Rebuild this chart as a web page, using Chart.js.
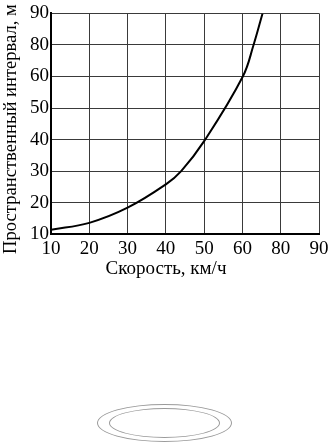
<!DOCTYPE html>
<html>
<head>
<meta charset="utf-8">
<script src="https://cdn.jsdelivr.net/npm/chart.js@4"></script>
<style>
  body { margin: 0; background: #fff; }
  #wrap { position: absolute; left: 0; top: 0; width: 329px; height: 284px; }
  .ring { position: absolute; border: 1px solid #9a9a9a; border-radius: 50%; box-sizing: border-box; }
</style>
</head>
<body>
<div id="wrap"><canvas id="gapChart"></canvas></div>
<div class="ring" style="left:97px; top:404px; width:135px; height:38px;"></div>
<div class="ring" style="left:109px; top:408px; width:111px; height:30px;"></div>
<script>
// tick labels (axes are not to scale: 70 is skipped on both)
const speedTicks = [10, 20, 30, 40, 50, 60, 80, 90];
const intervalTicks = [10, 20, 30, 40, 50, 60, 80, 90];

// curve
const speed = [10, 20, 30, 40, 44, 50, 60.2, 65.8, 70.5];
const interval = [11.4, 13.6, 18.4, 25.8, 30, 39.5, 60, 80, 90];

const yTitle = 'Пространственный интервал, м';
const xTitle = 'Скорость, км/ч';

// value -> position between the printed ticks
function toIndex(v, ticks) {
    for (let i = 0; i < ticks.length - 1; i++) {
        if (v <= ticks[i + 1]) {
            return i + (v - ticks[i]) / (ticks[i + 1] - ticks[i]);
        }
    }
    return ticks.length - 1;
}

const points = speed.map((s, i) => ({ x: toIndex(s, speedTicks), y: toIndex(interval[i], intervalTicks) }));

const fontFamily = "'Liberation Serif', 'DejaVu Serif', serif";
const serif = { family: fontFamily, size: 19, weight: 'normal' };

// axis titles drawn by hand, they are not centred on the plot in the original
const axisTitles = {
    id: 'axisTitles',
    afterDraw(chart) {
        const { ctx, chartArea } = chart;
        ctx.save();
        ctx.fillStyle = '#000';
        ctx.textAlign = 'center';
        ctx.textBaseline = 'middle';
        ctx.font = '19px ' + fontFamily;
        ctx.fillText(xTitle, 166, chartArea.bottom + 35);
        ctx.translate(11, 129);
        ctx.rotate(-Math.PI / 2);
        ctx.font = '18.6px ' + fontFamily;
        ctx.fillText(yTitle, 0, 0);
        ctx.restore();
    }
};

new Chart(document.querySelector("#gapChart"), {
    type: 'line',
    data: {
        datasets: [{
            data: points,
            borderColor: '#000',
            borderWidth: 2,
            pointRadius: 0,
            tension: 0.4,
            fill: false
        }]
    },
    options: {
        responsive: true,
        maintainAspectRatio: false,
        animation: false,
        layout: { padding: { top: 3, right: 0, left: 28, bottom: 21 } },
        plugins: {
            legend: { display: false },
            tooltip: { enabled: false }
        },
        scales: {
            x: {
                type: 'linear',
                min: 0,
                max: speedTicks.length - 1,
                grid: { color: '#3a3a3a', lineWidth: 1, drawTicks: false },
                border: { color: '#000', width: 2 },
                afterFit: (scale) => { scale.paddingRight = 10; },
                ticks: {
                    stepSize: 1,
                    padding: 3,
                    color: '#000',
                    font: serif,
                    maxRotation: 0,
                    callback: (v) => speedTicks[v]
                }
            },
            y: {
                type: 'linear',
                min: 0,
                max: intervalTicks.length - 1,
                grid: { color: '#3a3a3a', lineWidth: 1, drawTicks: false },
                border: { color: '#000', width: 2 },
                ticks: {
                    stepSize: 1,
                    padding: 2,
                    color: '#000',
                    font: serif,
                    callback: (v) => intervalTicks[v]
                }
            }
        }
    },
    plugins: [axisTitles]
});
</script>
</body>
</html>
